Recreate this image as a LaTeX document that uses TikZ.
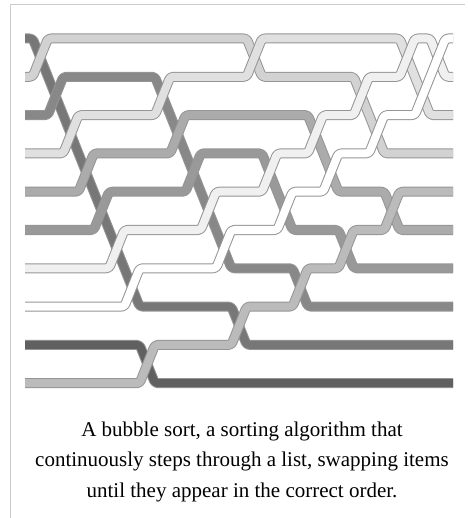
\documentclass[tikz,border=0pt]{standalone}
\usepackage{fontspec}
\setmainfont{Liberation Serif}
\definecolor{framecol}{HTML}{CCCCCC}
\definecolor{wireedge}{HTML}{959595}
\definecolor{val0}{HTML}{FFFFFF}
\definecolor{val1}{HTML}{F0F0F0}
\definecolor{val2}{HTML}{E0E0E0}
\definecolor{val3}{HTML}{D2D2D2}
\definecolor{val4}{HTML}{BBBBBB}
\definecolor{val5}{HTML}{ABABAB}
\definecolor{val6}{HTML}{999999}
\definecolor{val7}{HTML}{888888}
\definecolor{val8}{HTML}{777777}
\definecolor{val9}{HTML}{606060}
% one wire: an edge stroke with the value's colour laid on top
\newcommand{\wire}[2]{%
  \draw[line width=10pt, draw=wireedge] #2;
  \draw[line width=8pt, draw=#1] #2;}
\begin{document}
\begin{tikzpicture}[x=1pt, y=-1pt,
    captext/.style={anchor=base, inner sep=0pt, font=\fontsize{21}{30}\selectfont}]
  \useasboundingbox (0,0) rectangle (467,518);
  \fill[white] (0,0) rectangle (467,518);
  % frame
  \draw[framecol, line width=1pt] (10,518) -- (10,4.5) -- (465,4.5);
  % sorting network: one unit across is one swap step, one unit down is one row
  \begin{scope}[xshift=25pt, yshift=-38.5pt, x=15.29pt, y=-38.3pt,
      rounded corners=3pt, line cap=butt, line join=round]
    \wire{val9}{(0,8) -- (7.5,8) -- (8.5,9) -- (28,9)}
    \wire{val8}{(0,0) -- (0.5,0) -- (7.5,7) -- (13.5,7) -- (14.5,8) -- (28,8)}
    \wire{val7}{(0,2) -- (1.5,2) -- (2.5,1) -- (8.5,1) -- (13.5,6) -- (17.5,6) -- (18.5,7) -- (28,7)}
    \wire{val6}{(0,5) -- (4.5,5) -- (5.5,4) -- (10.5,4) -- (11.5,3) -- (15.5,3) -- (17.5,5) -- (20.5,5) -- (21.5,6) -- (28,6)}
    \wire{val5}{(0,4) -- (3.5,4) -- (4.5,3) -- (9.5,3) -- (10.5,2) -- (18.5,2) -- (20.5,4) -- (23.5,4) -- (24.5,5) -- (28,5)}
    \wire{val4}{(0,9) -- (7.5,9) -- (8.5,8) -- (13.5,8) -- (14.5,7) -- (17.5,7) -- (18.5,6) -- (20.5,6) -- (21.5,5) -- (23.5,5) -- (24.5,4) -- (28,4)}
    \wire{val3}{(0,1) -- (0.5,1) -- (1.5,0) -- (14.5,0) -- (15.5,1) -- (21.5,1) -- (23.5,3) -- (28,3)}
    \wire{val2}{(0,3) -- (2.5,3) -- (3.5,2) -- (8.5,2) -- (9.5,1) -- (14.5,1) -- (15.5,0) -- (24.5,0) -- (26.5,2) -- (28,2)}
    \wire{val1}{(0,6) -- (5.5,6) -- (6.5,5) -- (11.5,5) -- (12.5,4) -- (15.5,4) -- (16.5,3) -- (18.5,3) -- (19.5,2) -- (21.5,2) -- (22.5,1) -- (24.5,1) -- (25.5,0) -- (26.5,0) -- (27.5,1) -- (28,1)}
    \wire{val0}{(0,7) -- (6.5,7) -- (7.5,6) -- (12.5,6) -- (13.5,5) -- (16.5,5) -- (17.5,4) -- (19.5,4) -- (20.5,3) -- (22.5,3) -- (23.5,2) -- (25.5,2) -- (27.5,0) -- (28,0)}
  \end{scope}
  % caption
  \node[captext] (cap1) at (242,436) {A bubble sort, a sorting algorithm that};
  \node[captext] (cap2) at (242,466.5) {continuously steps through a list, swapping items};
  \node[captext] (cap3) at (242,497) {until they appear in the correct order.};
\end{tikzpicture}
\end{document}
